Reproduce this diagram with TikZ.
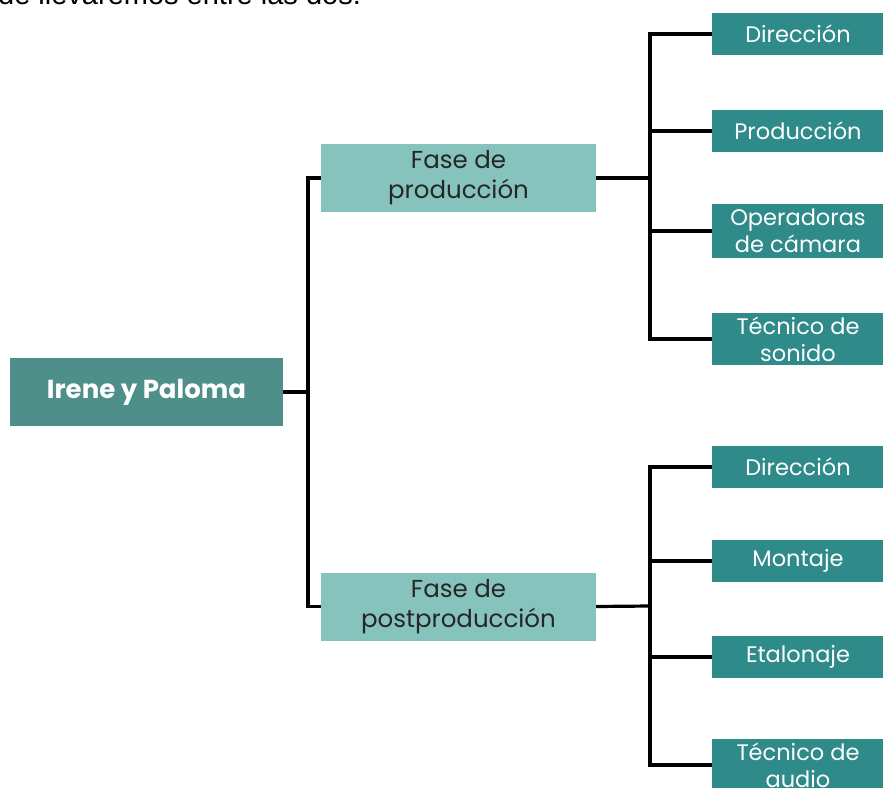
\documentclass[tikz,border=0pt]{standalone}
\usepackage{fontspec}
\setmainfont{Poppins}
\newfontfamily\topfont{Liberation Sans}
\definecolor{rootc}{HTML}{4E8F8A}
\definecolor{phasec}{HTML}{85C3BC}
\definecolor{leafc}{HTML}{2F8A8A}
\begin{document}
\begin{tikzpicture}[x=1pt,y=-1pt,
  rootbox/.style={fill=rootc,text=white,font=\fontsize{26}{30}\selectfont\bfseries,minimum width=273pt,minimum height=68pt,inner sep=0pt},
  phasebox/.style={fill=phasec,text=black!85,font=\fontsize{24.5}{30}\selectfont,align=center,minimum width=275pt,minimum height=68pt,inner sep=0pt},
  leafbox/.style={fill=leafc,text=white,font=\fontsize{22.5}{27}\selectfont,align=center,minimum width=172pt,inner sep=0pt},
  link/.style={line width=3.2pt,black}]
\useasboundingbox (0,0) rectangle (883,787);
\clip (0,0) rectangle (883,787);
\node[anchor=base west,font=\topfont\fontsize{29}{30}\selectfont,inner sep=0pt] (top) at (-2,5) {de llevaremos entre las dos.};
\node[rootbox] (root) at (146.5,392) {Irene y Paloma};
\node[phasebox] (p1) at (458.5,178) {Fase de\\producción};
\node[phasebox] (p2) at (458.5,606.5) {Fase de\\postproducción};
\node[leafbox,minimum height=42pt] (a1) at (798,34) {Dirección};
\node[leafbox,minimum height=42pt] (a2) at (798,131) {Producción};
\node[leafbox,minimum height=54pt] (a3) at (798,231) {Operadoras\\de cámara};
\node[leafbox,minimum height=52pt] (a4) at (798,339) {Técnico de\\sonido};
\node[leafbox,minimum height=42pt] (b1) at (798,467) {Dirección};
\node[leafbox,minimum height=42pt] (b2) at (798,561) {Montaje};
\node[leafbox,minimum height=42pt] (b3) at (798,657) {Etalonaje};
\node[leafbox,minimum height=52pt] (b4) at (798,765) {Técnico de\\audio};
\coordinate (j0) at (308,392);
\coordinate (j1) at (650,178);
\coordinate (j2) at (650,606);
\draw[link] (root.east) -- (j0);
\draw[link] (p1.west) -- (j0 |- p1.west) -- (j0 |- p2.west) -- (p2.west);
\draw[link] (p1.east) -- (j1);
\draw[link] (a1.west) -- (j1 |- a1.west) -- (j1 |- a4.west) -- (a4.west);
\draw[link] (j1 |- a2.west) -- (a2.west);
\draw[link] (j1 |- a3.west) -- (a3.west);
\draw[link] (p2.east) -- (j2);
\draw[link] (b1.west) -- (j2 |- b1.west) -- (j2 |- b4.west) -- (b4.west);
\draw[link] (j2 |- b2.west) -- (b2.west);
\draw[link] (j2 |- b3.west) -- (b3.west);
\end{tikzpicture}
\end{document}
